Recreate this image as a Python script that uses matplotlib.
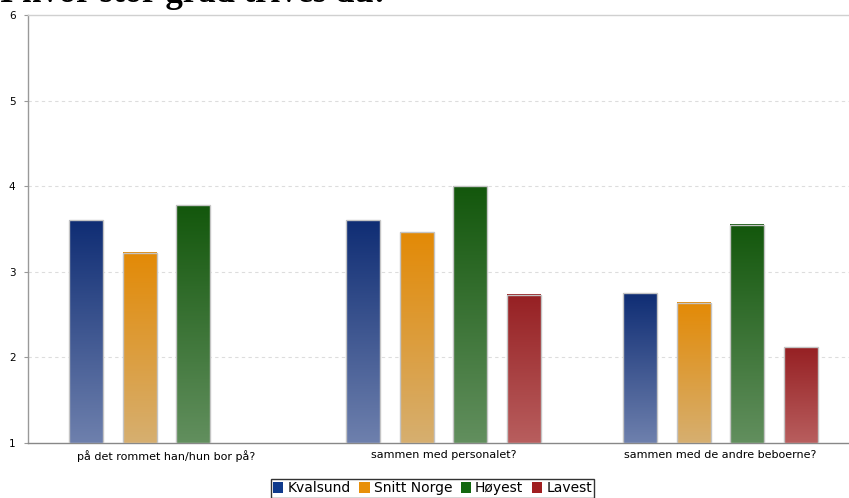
import numpy as np
import matplotlib
matplotlib.use("Agg")
import matplotlib.pyplot as plt
from matplotlib.patches import Patch
from matplotlib.colors import LinearSegmentedColormap

# ---- data ----
categories = ["på det rommet han/hun bor på?", "sammen med personalet?", "sammen med de andre beboerne?"]
series_names = ["Kvalsund", "Snitt Norge", "Høyest", "Lavest"]
kvalsund = [3.6, 3.6, 2.75]
snitt_norge = [3.22, 3.46, 2.64]
hoyest = [3.78, 4.0, 3.55]
lavest = [np.nan, 2.73, 2.12]
series_values = [kvalsund, snitt_norge, hoyest, lavest]
y_ticks = [1, 2, 3, 4, 5, 6]
title = "I hvor stor grad trives du:"

# ---- styles ----
top_colors = ["#0f2d74", "#e38a06", "#13570c", "#962023"]
bottom_colors = ["#6e80ad", "#d6af70", "#628f5e", "#b85e5e"]
legend_colors = ["#0f3a8c", "#e8900a", "#12670f", "#a01e20"]

W, H = 849, 498
fig = plt.figure(figsize=(W / 100, H / 100), dpi=100)
ax = fig.add_axes([28 / W, 1 - 443 / H, 831 / W, (443 - 15) / H])

BASE = 1
slot = 0.193
bw = 0.1227
n = len(series_names)
xc = np.arange(len(categories)) + 0.5

for i, vals in enumerate(series_values):
    vals = np.asarray(vals, dtype=float)
    xs = xc + (i - (n - 1) / 2) * slot
    bars = ax.bar(xs, vals - BASE, bottom=BASE, width=bw, facecolor="none",
                  edgecolor="#c4c4c4", linewidth=1.0, zorder=4)
    cmap = LinearSegmentedColormap.from_list(f"g{i}", [bottom_colors[i], top_colors[i]])
    grad = np.linspace(0, 1, 256).reshape(-1, 1)
    for p in bars.patches:
        h = p.get_height()
        if not np.isfinite(h):
            continue
        x0 = p.get_x()
        ax.imshow(grad, cmap=cmap, origin="lower", aspect="auto",
                  extent=(x0, x0 + p.get_width(), p.get_y(), p.get_y() + h),
                  zorder=3, interpolation="bilinear")

ax.set_xlim(0, len(categories))
ax.set_ylim(y_ticks[0], y_ticks[-1])

ax.set_yticks(y_ticks)
ax.set_yticklabels([str(t) for t in y_ticks], fontsize=7.5)
ax.set_xticks(xc)
ax.set_xticklabels(categories, fontsize=8)
ax.tick_params(axis="x", length=0, pad=5)
ax.tick_params(axis="y", length=3, color="#999999", pad=6, width=0.8)

for t in y_ticks[1:-1]:
    ax.axhline(t, color="#dddddd", linestyle=(0, (3, 3)), linewidth=0.8, zorder=1)

ax.spines["right"].set_visible(False)
ax.spines["top"].set_color("#d0d0d0")
ax.spines["left"].set_color("#999999")
ax.spines["bottom"].set_color("#888888")
for s in ["top", "left", "bottom"]:
    ax.spines[s].set_linewidth(1.0)

fig.text(0, 1 - 2.5 / H, title, fontsize=25, fontweight="bold",
         family="Liberation Serif", ha="left", va="baseline")

handles = [Patch(facecolor=c, edgecolor="none") for c in legend_colors]
leg = fig.legend(handles, series_names, loc="lower center",
                 bbox_to_anchor=(432.5 / W, 0.5 / H), ncol=4, frameon=True,
                 fontsize=10, handlelength=0.75, handleheight=0.75, handletextpad=0.3,
                 columnspacing=0.6, borderpad=0.15, fancybox=False, borderaxespad=0)
leg.get_frame().set_edgecolor("black")
leg.get_frame().set_linewidth(1.0)

fig.savefig("out.png", dpi=100)
